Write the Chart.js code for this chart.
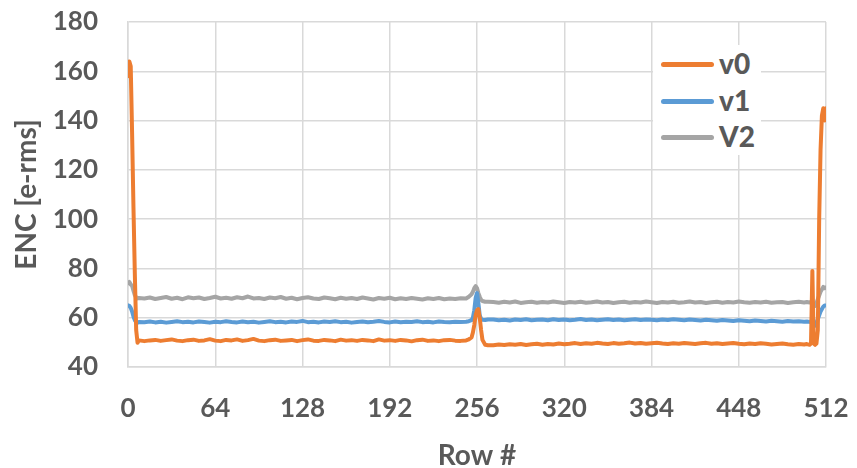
<!DOCTYPE html>
<html>
<head>
<meta charset="utf-8">
<script src="https://cdn.jsdelivr.net/npm/chart.js@4.4.1/dist/chart.umd.min.js"></script>
<style>
    body { margin: 0; background: #fff; }
    #wrap { position: relative; width: 857px; height: 468px; }
    #legend {
        position: absolute; left: 653px; top: 45px; width: 108px; height: 110px;
        background: #fff; font-family: Lato, sans-serif; font-weight: 900;
        font-size: 28px; color: #595959;
    }
    .item { position: absolute; left: 8px; height: 30px; line-height: 30px; }
    .item span.sw { position: absolute; left: 0; top: 13px; width: 53px; height: 5px; border-radius: 3px; }
    .item span.tx { position: absolute; left: 58px; top: -1px; }
</style>
</head>
<body>
<div id="wrap">
    <canvas id="chart" width="857" height="468"></canvas>
    <div id="legend"></div>
</div>
<script>
const rows = [
    0, 1, 2, 3, 4, 5, 6, 7, 8,
    12, 16, 20, 24, 28, 32, 36, 40, 44, 48, 52, 56, 60, 64, 68, 72, 76, 80, 84, 88,
    92, 96, 100, 104, 108, 112, 116, 120, 124, 128, 132, 136, 140, 144, 148, 152, 156, 160, 164, 168,
    172, 176, 180, 184, 188, 192, 196, 200, 204, 208, 212, 216, 220, 224, 228, 232, 236, 240, 244,
    248, 250, 252, 253, 254, 255, 256, 257, 258, 259, 260, 262, 264,
    268, 272, 276, 280, 284, 288, 292, 296, 300, 304, 308, 312, 316, 320, 324, 328, 332, 336, 340, 344,
    348, 352, 356, 360, 364, 368, 372, 376, 380, 384, 388, 392, 396, 400, 404, 408, 412, 416, 420, 424,
    428, 432, 436, 440, 444, 448, 452, 456, 460, 464, 468, 472, 476, 480, 484, 488, 492, 496,
    498, 500, 501, 502, 503, 504, 505, 506, 507, 508, 509, 510, 511, 512
];

const v0 = [
    158, 164, 162, 135, 105, 78, 55, 49.8, 50.8,
    50.5, 50.8, 51.0, 50.6, 50.9, 51.2, 50.7, 50.5, 50.9, 51.1,
    50.6, 50.8, 51.3, 50.7, 50.5, 51.0, 50.8, 51.2, 50.6, 50.9,
    51.4, 50.7, 50.5, 50.9, 51.1, 50.6, 50.8, 51.0, 50.5, 50.9,
    51.2, 50.7, 50.6, 51.0, 50.8, 50.5, 51.1, 50.7, 50.9, 50.6,
    51.0, 50.8, 50.5, 51.2, 50.7, 50.9, 50.6, 51.0, 50.8, 50.4,
    50.9, 51.1, 50.6, 50.8, 50.5, 50.9, 51.0, 50.7, 50.6,
    50.8, 51.2, 52, 54, 57, 61, 63, 63.5, 60, 55, 51, 49, 48.8,
    48.8, 49.1, 48.9, 49.2, 49.0, 49.3, 48.9, 49.2, 49.4, 49.0,
    49.3, 49.1, 49.5, 49.2, 49.4, 49.7, 49.3, 49.6, 49.4, 49.8,
    49.5, 49.3, 49.7, 49.4, 49.6, 49.9, 49.5, 49.7, 49.4, 49.6,
    49.8, 49.5, 49.3, 49.6, 49.4, 49.7, 49.5, 49.3, 49.6, 49.8,
    49.4, 49.6, 49.3, 49.5, 49.7, 49.4, 49.2, 49.5, 49.3, 49.6,
    49.4, 49.1, 49.3, 49.5, 49.2, 49.0, 49.3, 49.1,
    49.3, 49.0, 49.5, 79, 49.5, 49.0, 49.5, 55, 100, 128, 142, 145, 140, 145
];

const v1 = [
    65, 64.8, 64, 62.5, 60.5, 59, 58.3, 58, 58.3,
    58.2, 58.5, 58.1, 58.4, 58.0, 58.3, 58.6, 58.2, 58.4, 58.1,
    58.5, 58.3, 58.0, 58.4, 58.2, 58.6, 58.3, 58.1, 58.5, 58.2,
    58.4, 58.0, 58.3, 58.6, 58.2, 58.4, 58.1, 58.5, 58.3, 58.7,
    58.2, 58.4, 58.1, 58.5, 58.3, 58.6, 58.2, 58.4, 58.0, 58.3,
    58.5, 58.2, 58.4, 58.7, 58.3, 58.1, 58.5, 58.2, 58.4, 58.3,
    58.6, 58.2, 58.4, 58.1, 58.5, 58.3, 58.2, 58.4, 58.3,
    58.4, 58.6, 59, 60, 63, 68, 70, 66, 61, 59.5, 59.2, 59.1, 59.3,
    59.3, 59.0, 59.2, 58.9, 59.3, 59.1, 59.4, 59.0, 59.2, 59.3,
    59.0, 59.4, 59.1, 59.3, 59.0, 59.2, 59.5, 59.1, 59.3, 59.0,
    59.2, 59.4, 59.1, 59.3, 59.0, 59.2, 59.4, 59.1, 59.3, 59.2,
    59.0, 59.3, 59.1, 59.4, 59.2, 59.0, 59.3, 59.1, 58.9, 59.2,
    59.0, 58.8, 59.1, 58.9, 58.7, 59.0, 58.8, 58.6, 58.9, 58.7,
    58.5, 58.8, 58.6, 58.4, 58.7, 58.5, 58.6, 58.4,
    58.5, 58.3, 58.5, 58.2, 57.5, 56.8, 58, 59.5, 61, 62.5, 63.5, 64.5, 65, 65
];

const v2 = [
    74, 74.5, 73.5, 73, 71, 69.2, 68.2, 67.8, 68,
    67.8, 68.2, 67.6, 68.0, 68.4, 67.7, 68.1, 67.5, 68.3, 67.9,
    68.2, 67.6, 68.0, 68.5, 67.8, 68.1, 67.7, 68.3, 67.9, 68.6,
    67.8, 68.0, 67.6, 68.2, 67.9, 68.4, 67.7, 68.1, 67.5, 68.0,
    68.3, 67.8, 67.6, 68.2, 67.9, 67.5, 68.1, 67.7, 68.0, 67.6,
    68.2, 67.8, 67.4, 68.0, 67.7, 68.1, 67.5, 67.9, 67.6, 68.0,
    67.7, 67.4, 67.9, 67.6, 68.0, 67.5, 67.8, 67.6, 67.9,
    67.8, 68.5, 69.5, 70.5, 72, 72.8, 72, 70, 68.5, 67.3, 66.8, 66.5, 66.5,
    66.4, 66.1, 66.5, 66.2, 66.6, 66.0, 66.3, 66.5, 66.1, 66.4,
    66.2, 66.6, 66.3, 66.0, 66.4, 66.2, 66.5, 66.1, 66.3, 66.6,
    66.2, 66.4, 66.0, 66.3, 66.5, 66.1, 66.4, 66.2, 66.6, 66.3,
    66.0, 66.4, 66.2, 66.5, 66.1, 66.3, 66.6, 66.2, 66.4, 66.0,
    66.3, 66.5, 66.1, 66.4, 66.2, 66.6, 66.3, 66.1, 66.4, 66.2,
    66.5, 66.1, 66.3, 66.4, 66.0, 66.3, 66.5, 66.2,
    66.4, 66.2, 66.5, 66.3, 65.5, 64.8, 66, 67.5, 69, 70.5, 71.5, 72.5, 72, 72.3
];

const seriesNames = ["v0", "v1", "V2"];
const seriesColors = ["#ED7D31", "#5B9BD5", "#A5A5A5"];
const xTicks = [0, 64, 128, 192, 256, 320, 384, 448, 512];
const yTicks = [40, 60, 80, 100, 120, 140, 160, 180];

const textColor = "#595959";
const gridColor = "#D9D9D9";
const fontFam = "Lato, 'Open Sans', sans-serif";

const toPoints = vals => vals.map((v, i) => ({ x: rows[i], y: v }));

const datasets = [v0, v1, v2].map((vals, i) => ({
    label: seriesNames[i],
    data: toPoints(vals),
    borderColor: seriesColors[i],
    backgroundColor: seriesColors[i],
    borderWidth: 4,
    pointRadius: 0,
    tension: 0,
    borderJoinStyle: "round",
    borderCapStyle: "round"
}));

new Chart(document.getElementById("chart").getContext("2d"), {
    type: "line",
    data: { datasets },
    options: {
        responsive: false,
        animation: false,
        layout: { padding: { top: 22, right: 31, left: 0, bottom: 0 } },
        plugins: { legend: { display: false }, tooltip: { enabled: false } },
        scales: {
            x: {
                type: "linear",
                min: 0,
                max: 512,
                afterBuildTicks: s => { s.ticks = xTicks.map(v => ({ value: v })); },
                afterFit: s => { s.height = 101; s.paddingLeft = 0; s.paddingRight = 0; },
                grid: { color: gridColor, lineWidth: 1.5, drawTicks: false },
                border: { color: gridColor, width: 1.5 },
                ticks: { color: textColor, padding: 26, font: { family: fontFam, size: 26, weight: "bold" } },
                title: {
                    display: true, text: "Row #", color: textColor,
                    padding: { top: 0, bottom: 0 },
                    font: { family: fontFam, size: 28, weight: "bold", lineHeight: 0.85 }
                }
            },
            y: {
                min: 40,
                max: 180,
                afterBuildTicks: s => { s.ticks = yTicks.map(v => ({ value: v })); },
                afterFit: s => { s.width = 128; s.paddingTop = 0; s.paddingBottom = 0; },
                grid: { color: gridColor, lineWidth: 1.5, drawTicks: false },
                border: { color: gridColor, width: 1.5 },
                ticks: { color: textColor, padding: 30, font: { family: fontFam, size: 26, weight: "bold" } },
                title: {
                    display: true, text: "ENC [e-rms]", color: textColor,
                    padding: { top: 10, bottom: 0 },
                    font: { family: fontFam, size: 28, weight: "bold", lineHeight: 1.2 }
                }
            }
        }
    }
});

// legend box sits inside the plot, top right
const legend = document.getElementById("legend");
seriesNames.forEach((name, i) => {
    const item = document.createElement("div");
    item.className = "item";
    item.style.top = (4 + i * 36.5) + "px";
    item.innerHTML = `<span class="sw" style="background:${seriesColors[i]}"></span><span class="tx">${name}</span>`;
    legend.appendChild(item);
});
</script>
</body>
</html>
